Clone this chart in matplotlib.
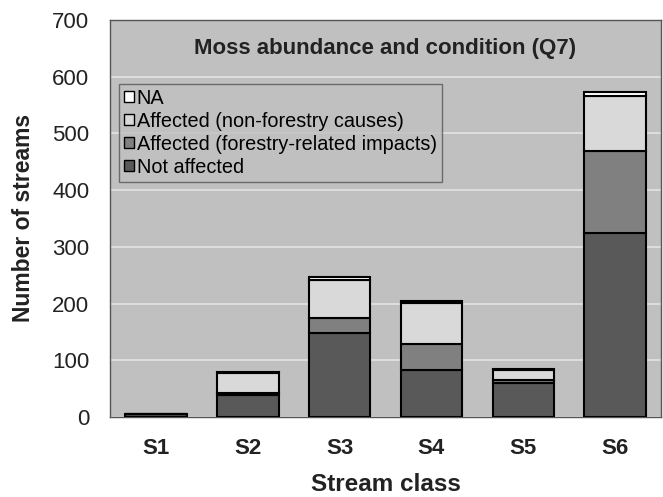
import numpy as np
import matplotlib.pyplot as plt

plt.rcParams['font.family'] = ['Liberation Sans', 'DejaVu Sans']

# Stream classes and stacked counts
classes = ['S1', 'S2', 'S3', 'S4', 'S5', 'S6']
not_affected = [5, 38, 148, 82, 60, 325]
forestry = [0, 5, 27, 46, 5, 144]
non_forestry = [0, 35, 66, 73, 17, 97]
na = [0, 1, 5, 4, 2, 6]

series = [
    ('Not affected', not_affected, '#595959'),
    ('Affected (forestry-related impacts)', forestry, '#808080'),
    ('Affected (non-forestry causes)', non_forestry, '#d9d9d9'),
    ('NA', na, '#ffffff'),
]

fig = plt.figure(figsize=(6.63, 4.97), dpi=100)
ax = fig.add_axes([0.166, 0.161, 0.831, 0.799])
ax.set_facecolor('#c0c0c0')

x = np.arange(len(classes))
bottom = np.zeros(len(classes))
for name, vals, col in series:
    ax.bar(x, vals, 0.67, bottom=bottom, color=col, edgecolor='black',
           linewidth=1.5, label=name, zorder=3)
    bottom += np.array(vals)

ax.set_ylim(0, 700)
ax.set_xlim(-0.5, 5.5)
ax.set_yticks(range(0, 701, 100))
ax.yaxis.grid(True, color='#e4e4e4', linewidth=1.2, zorder=0)
ax.set_axisbelow(True)
ax.tick_params(axis='both', length=0)
ax.tick_params(axis='y', labelsize=16, colors='#222222', pad=15)
ax.set_xticks(x)
ax.set_xticklabels(classes, fontsize=16, fontweight='bold', color='#222222')
ax.tick_params(axis='x', pad=15)
for s in ax.spines.values():
    s.set_color('#555555')
    s.set_linewidth(1)

ax.set_ylabel('Number of streams', fontsize=16.5, fontweight='bold', labelpad=12, color='#222222')
ax.set_xlabel('Stream class', fontsize=17.5, fontweight='bold', labelpad=10, color='#222222')
ax.text(0.5, 0.928, 'Moss abundance and condition (Q7)', transform=ax.transAxes,
        ha='center', va='center', fontsize=16, fontweight='bold', color='#222222')

h, l = ax.get_legend_handles_labels()
leg = ax.legend(h[::-1], l[::-1], loc='upper left', bbox_to_anchor=(0.016, 0.839),
                fontsize=14.3, frameon=True, fancybox=False, facecolor='#c0c0c0',
                edgecolor='#555555', handlelength=0.5, handleheight=0.5,
                handletextpad=0.15, labelspacing=0.2, borderpad=0.25, borderaxespad=0)
leg.get_frame().set_linewidth(1)
for p in leg.get_patches():
    p.set_linewidth(1)

fig.savefig('out.png', dpi=100)
